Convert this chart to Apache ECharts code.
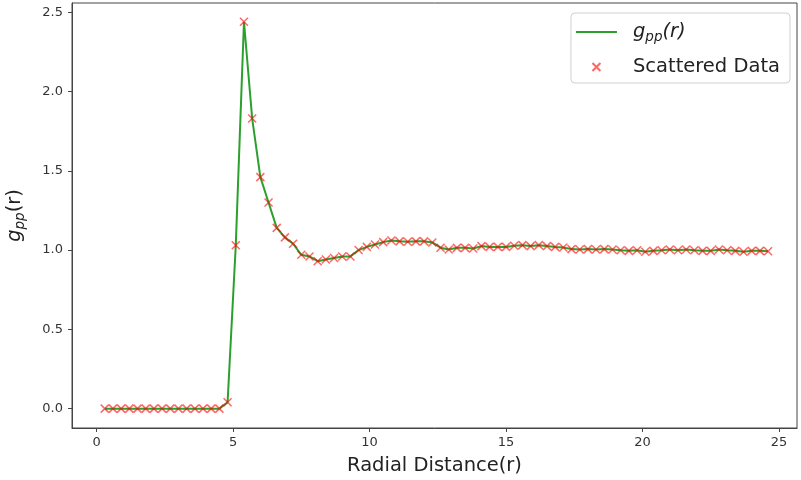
<!DOCTYPE html>
<html>
<head>
<meta charset="utf-8">
<script src="https://cdn.jsdelivr.net/npm/echarts@6/dist/echarts.min.js"></script>
<style>
html,body{margin:0;padding:0;background:#fff;}
#chart{width:801px;height:480px;}
</style>
</head>
<body>
<div id="chart"></div>
<script>
// Radial distance (r) sample positions
var radius = [0.3,0.6,0.9,1.2,1.5,1.8,2.1,2.4,2.7,3.0,3.3,3.6,3.9,4.2,4.5,4.8,5.1,5.4,5.7,6.0,
  6.3,6.6,6.9,7.2,7.5,7.8,8.1,8.4,8.7,9.0,9.3,9.6,9.9,10.2,10.5,10.8,11.1,11.4,11.7,12.0,
  12.3,12.6,12.9,13.2,13.5,13.8,14.1,14.4,14.7,15.0,15.3,15.6,15.9,16.2,16.5,16.8,17.1,17.4,17.7,18.0,
  18.3,18.6,18.9,19.2,19.5,19.8,20.1,20.4,20.7,21.0,21.3,21.6,21.9,22.2,22.5,22.8,23.1,23.4,23.7,24.0,
  24.3,24.6];
// g_pp(r) values
var gpp = [0,0,0,0,0,0,0,0,0,0,0,0,0,0,0,0.04,1.03,2.44,1.83,1.46,
  1.30,1.14,1.08,1.04,0.97,0.96,0.93,0.94,0.95,0.96,0.96,1.00,1.02,1.035,1.05,1.06,1.055,1.052,1.055,1.055,
  1.048,1.015,1.004,1.014,1.014,1.010,1.025,1.020,1.020,1.020,1.027,1.031,1.025,1.031,1.025,1.020,1.016,1.006,1.004,1.006,
  1.004,1.006,1.004,0.999,0.995,0.999,0.989,0.995,0.999,1.004,0.999,1.004,0.999,0.995,0.995,1.004,0.999,0.995,0.989,0.995,
  0.995,0.992];
var xTicks = [0,5,10,15,20,25];
var yTicks = [0,0.5,1.0,1.5,2.0,2.5];
var lineName = 'gpp';
var scatterName = 'Scattered Data';

var pairs = radius.map(function(r,i){return [r,gpp[i]];});
var font = 'DejaVu Sans';
var green = '#2ca02c';
var chart = echarts.init(document.getElementById('chart'), null, {renderer:'canvas'});
chart.setOption({
  animation:false,
  backgroundColor:'#fff',
  textStyle:{fontFamily:font},
  grid:{left:72,right:4,top:3,bottom:52,outerBoundsMode:'none',containLabel:false,
    show:true,borderColor:'#444',borderWidth:1,backgroundColor:'transparent'},
  legend:{
    orient:'vertical',right:11,top:13,
    backgroundColor:'rgba(255,255,255,0.8)',borderColor:'#d0d0d0',borderWidth:1,borderRadius:4,
    padding:[7,10,4,5],itemGap:11,itemWidth:41,itemHeight:8,
    data:[
      {name:lineName,icon:'path://M0,0H41V2H0Z',itemStyle:{color:green,borderWidth:0}},
      {name:scatterName}
    ],
    formatter:function(n){return n===lineName?'{i|g}{s|pp}{i|(r)}':n;},
    textStyle:{fontSize:19.5,color:'#222',fontFamily:font,padding:[0,0,0,11],lineHeight:24,
      rich:{
        i:{fontSize:19.5,fontStyle:'italic',fontFamily:font,color:'#222',lineHeight:24},
        s:{fontSize:13.5,fontStyle:'italic',fontFamily:font,color:'#222',verticalAlign:'bottom',lineHeight:16}
      }}
  },
  xAxis:{
    type:'value',min:-0.9,max:25.66,
    name:'Radial Distance(r)',nameLocation:'middle',nameGap:28,
    nameTextStyle:{fontSize:19.5,color:'#222',fontFamily:font},
    axisLine:{show:true,onZero:false,lineStyle:{color:'#444',width:1}},
    axisTick:{show:true,customValues:xTicks,length:4,lineStyle:{color:'#444'}},
    axisLabel:{customValues:xTicks,fontSize:13,color:'#333',margin:8,fontFamily:font},
    splitLine:{show:false}
  },
  yAxis:{
    type:'value',min:-0.122,max:2.558,
    name:'{i|g}{s|pp}{n|(r)}',nameLocation:'middle',nameGap:45,nameRotate:90,
    nameTextStyle:{fontSize:19.5,color:'#222',fontFamily:font,lineHeight:24,
      rich:{
        i:{fontSize:19.5,fontStyle:'italic',fontFamily:font,color:'#222',lineHeight:24},
        s:{fontSize:13.5,fontStyle:'italic',fontFamily:font,color:'#222',verticalAlign:'bottom',lineHeight:16},
        n:{fontSize:19.5,fontFamily:font,color:'#222',lineHeight:24}
      }},
    axisLine:{show:true,onZero:false,lineStyle:{color:'#444',width:1}},
    axisTick:{show:true,customValues:yTicks,length:4,lineStyle:{color:'#444'}},
    axisLabel:{customValues:yTicks,fontSize:13,color:'#333',margin:9,fontFamily:font,
      formatter:function(v){return v.toFixed(1);}},
    splitLine:{show:false}
  },
  series:[
    {name:lineName,type:'line',data:pairs,symbol:'none',z:2,
     lineStyle:{color:green,width:2},itemStyle:{color:green}},
    {name:scatterName,type:'scatter',data:pairs,z:3,
     symbol:'path://M0,0L10,10M10,0L0,10',symbolSize:8,
     itemStyle:{color:'none',borderColor:'rgba(255,0,0,0.75)',borderWidth:1.5}}
  ]
});
</script>
</body>
</html>
